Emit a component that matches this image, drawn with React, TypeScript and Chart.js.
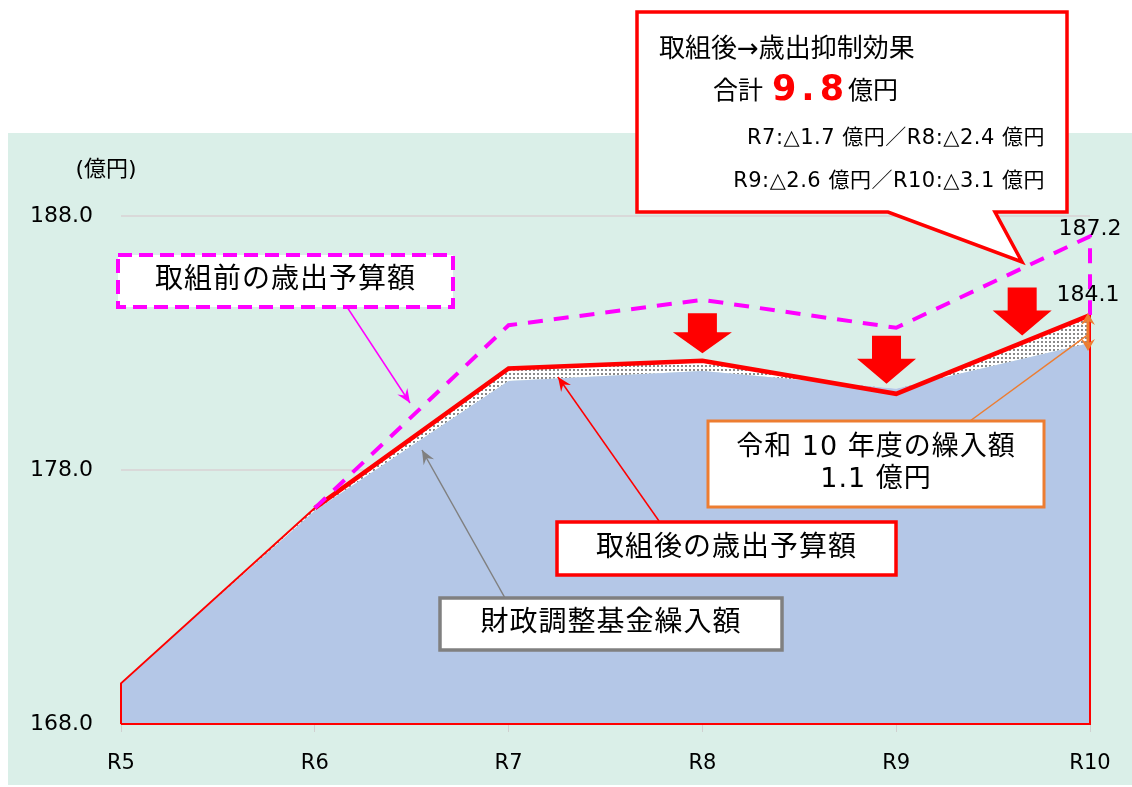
import React, { useEffect, useRef } from "react";
import { Chart, registerables } from "chart.js";

Chart.register(...registerables);

// 年度
const categories = ["R5", "R6", "R7", "R8", "R9", "R10"];
// 取組後の歳出予算額（億円）
const afterBudget = [169.6, 176.5, 182.0, 182.3, 181.0, 184.1];
// 取組前の歳出予算額（億円）R6 起点
const beforeBudget = [null, 176.5, 183.7, 184.7, 183.6, 187.2];
// 財政調整基金繰入を除いた歳出額（億円）
const baseBudget = [169.6, 176.4, 181.5, 181.9, 181.2, 183.0];
// 歳出抑制効果（億円）
const reductions = [null, null, 1.7, 2.4, 2.6, 3.1];
// 令和10年度の繰入額（億円）
const fundTransferR10 = 1.1;
// 縦軸目盛
const yTicks = [168, 178, 188];

const FONT = '"DejaVu Sans", "Noto Sans CJK JP", sans-serif';
const PANEL = "#DAEFE8";
const BLUE = "#B4C7E7";
const RED = "#FF0000";
const MAGENTA = "#FF00FF";
const ORANGE = "#ED7D31";
const GRAY = "#808080";

function makeDotPattern(ctx: CanvasRenderingContext2D): CanvasPattern | string {
  const c = document.createElement("canvas");
  c.width = 4;
  c.height = 4;
  const p = c.getContext("2d");
  if (!p) return "#FFFFFF";
  p.fillStyle = "#FFFFFF";
  p.fillRect(0, 0, 4, 4);
  p.fillStyle = "#8A8A8A";
  p.fillRect(1, 1, 2, 2);
  return ctx.createPattern(c, "repeat") || "#FFFFFF";
}

function arrowHead(
  ctx: CanvasRenderingContext2D,
  x1: number, y1: number, x2: number, y2: number,
  len: number, half: number, color: string
) {
  const a = Math.atan2(y2 - y1, x2 - x1);
  const cos = Math.cos(a);
  const sin = Math.sin(a);
  const bx = x2 - cos * len;
  const by = y2 - sin * len;
  const nx = x2 - cos * len * 0.65;
  const ny = y2 - sin * len * 0.65;
  ctx.fillStyle = color;
  ctx.beginPath();
  ctx.moveTo(x2, y2);
  ctx.lineTo(bx - sin * half, by + cos * half);
  ctx.lineTo(nx, ny);
  ctx.lineTo(bx + sin * half, by - cos * half);
  ctx.closePath();
  ctx.fill();
}

function leader(
  ctx: CanvasRenderingContext2D,
  x1: number, y1: number, x2: number, y2: number,
  color: string, width: number, head: boolean
) {
  ctx.save();
  ctx.strokeStyle = color;
  ctx.lineWidth = width;
  ctx.setLineDash([]);
  ctx.beginPath();
  ctx.moveTo(x1, y1);
  ctx.lineTo(x2, y2);
  ctx.stroke();
  if (head) arrowHead(ctx, x1, y1, x2, y2, 14, 6, color);
  ctx.restore();
}

function blockArrow(ctx: CanvasRenderingContext2D, cx: number, tipY: number, h: number, headH: number) {
  const shaftW = 29;
  const headW = 59;
  const top = tipY - h;
  ctx.save();
  ctx.fillStyle = RED;
  ctx.beginPath();
  ctx.moveTo(cx - shaftW / 2, top);
  ctx.lineTo(cx + shaftW / 2, top);
  ctx.lineTo(cx + shaftW / 2, tipY - headH);
  ctx.lineTo(cx + headW / 2, tipY - headH);
  ctx.lineTo(cx, tipY);
  ctx.lineTo(cx - headW / 2, tipY - headH);
  ctx.lineTo(cx - shaftW / 2, tipY - headH);
  ctx.closePath();
  ctx.fill();
  ctx.restore();
}

function labelBox(
  ctx: CanvasRenderingContext2D,
  x: number, y: number, w: number, h: number,
  color: string, lineWidth: number, dash: number[],
  lines: string[], size: number
) {
  ctx.save();
  ctx.fillStyle = "#FFFFFF";
  ctx.fillRect(x, y, w, h);
  ctx.strokeStyle = color;
  ctx.lineWidth = lineWidth;
  ctx.setLineDash(dash);
  ctx.strokeRect(x, y, w, h);
  ctx.setLineDash([]);
  ctx.fillStyle = "#000000";
  ctx.font = `${size}px ${FONT}`;
  (ctx as any).letterSpacing = "1px";
  ctx.textAlign = "center";
  ctx.textBaseline = "middle";
  const lh = size * 1.15;
  const cy = y + h / 2 - ((lines.length - 1) * lh) / 2;
  lines.forEach((t, i) => ctx.fillText(t, x + w / 2, cy + i * lh));
  ctx.restore();
}

const overlay = {
  id: "overlay",
  beforeDraw(chart: any) {
    const ctx: CanvasRenderingContext2D = chart.ctx;
    ctx.save();
    ctx.fillStyle = PANEL;
    ctx.fillRect(8, 133, chart.width - 8, 652);
    ctx.restore();
  },
  afterDraw(chart: any) {
    const ctx: CanvasRenderingContext2D = chart.ctx;
    const xs = chart.scales.x;
    const ys = chart.scales.y;
    const last = categories.length - 1;
    const px = (v: number) => xs.getPixelForValue(v);
    const py = (v: number) => ys.getPixelForValue(v);

    ctx.save();
    ctx.fillStyle = "#000000";
    ctx.textBaseline = "middle";
    ctx.textAlign = "center";
    ctx.font = `22px ${FONT}`;
    ctx.fillText("(億円)", 106, 170);

    // 端点の値ラベル
    ctx.font = `22px ${FONT}`;
    ctx.textBaseline = "alphabetic";
    ctx.fillText(beforeBudget[last]!.toFixed(1), px(last), py(beforeBudget[last]!) - 1);
    ctx.fillText(afterBudget[last].toFixed(1), px(last) - 2, py(afterBudget[last]) - 14);
    ctx.restore();

    // 抑制効果の矢印
    blockArrow(ctx, px(3), py(182.6), 40, 21);
    blockArrow(ctx, px(3.95), py(181.4), 48, 25);
    blockArrow(ctx, px(4.65), py(183.3), 48, 25);

    // 引出線
    leader(ctx, 347, 307, 410, 403, MAGENTA, 1.5, true);
    leader(ctx, 659, 521, 558, 377, RED, 1.5, true);
    leader(ctx, 505, 598, 422, 450, GRAY, 1.5, true);
    leader(ctx, 970, 421, px(last) - 3, py(183.3), ORANGE, 1.5, false);

    // 令和10年度の繰入額（両矢印）
    const yTop = py(afterBudget[last]) - 2;
    const yBot = py(afterBudget[last] - fundTransferR10) + 8;
    const ax = px(last) - 2;
    ctx.save();
    ctx.strokeStyle = ORANGE;
    ctx.lineWidth = 3;
    ctx.beginPath();
    ctx.moveTo(ax, yTop + 8);
    ctx.lineTo(ax, yBot - 8);
    ctx.stroke();
    arrowHead(ctx, ax, yBot, ax, yTop, 12, 7, ORANGE);
    arrowHead(ctx, ax, yTop, ax, yBot, 12, 7, ORANGE);
    ctx.restore();

    // ラベル枠
    labelBox(ctx, 118, 255, 335, 52, MAGENTA, 4, [14, 7], ["取組前の歳出予算額"], 28);
    labelBox(ctx, 557, 522, 339, 53, RED, 3.5, [], ["取組後の歳出予算額"], 28);
    labelBox(ctx, 440, 598, 342, 52, GRAY, 3.5, [], ["財政調整基金繰入額"], 28);
    labelBox(ctx, 708, 421, 336, 86, ORANGE, 3, [], [
      "令和 10 年度の繰入額",
      `${fundTransferR10.toFixed(1)} 億円`,
    ], 27);

    // 吹き出し
    ctx.save();
    ctx.beginPath();
    ctx.moveTo(637, 12);
    ctx.lineTo(1067, 12);
    ctx.lineTo(1067, 212);
    ctx.lineTo(995, 212);
    ctx.lineTo(1022, 262);
    ctx.lineTo(888, 212);
    ctx.lineTo(637, 212);
    ctx.closePath();
    ctx.fillStyle = "#FFFFFF";
    ctx.fill();
    ctx.strokeStyle = RED;
    ctx.lineWidth = 3.5;
    ctx.lineJoin = "miter";
    ctx.stroke();

    const total = reductions.reduce((s: number, v) => s + (v ?? 0), 0);
    ctx.fillStyle = "#000000";
    ctx.textBaseline = "alphabetic";
    ctx.textAlign = "left";
    ctx.font = `26px ${FONT}`;
    ctx.fillText("取組後→歳出抑制効果", 659, 57);
    ctx.font = `25px ${FONT}`;
    ctx.fillText("合計", 713, 99);
    ctx.fillStyle = RED;
    ctx.font = `bold 35px ${FONT}`;
    (ctx as any).letterSpacing = "5px";
    ctx.fillText(total.toFixed(1), 772, 100);
    (ctx as any).letterSpacing = "0px";
    ctx.fillStyle = "#000000";
    ctx.font = `25px ${FONT}`;
    ctx.fillText("億円", 848, 99);

    const part = (i: number) => `${categories[i]}:△${reductions[i]!.toFixed(1)} 億円`;
    ctx.textAlign = "right";
    ctx.font = `21px ${FONT}`;
    (ctx as any).letterSpacing = "0.5px";
    ctx.fillText(`${part(2)}／${part(3)}`, 1045, 144);
    ctx.fillText(`${part(4)}／${part(5)}`, 1045, 187);
    ctx.restore();
  },
};

export default function App() {
  const ref = useRef<HTMLCanvasElement>(null);

  useEffect(() => {
    const canvas = ref.current;
    if (!canvas) return;
    const ctx = canvas.getContext("2d");
    if (!ctx) return;
    Chart.defaults.font.family = FONT;
    Chart.defaults.color = "#000000";

    const last = categories.length - 1;
    const yMin = yTicks[0];
    const yMax = yTicks[yTicks.length - 1];
    const pts = (arr: (number | null)[]) =>
      arr.map((y, i) => (y == null ? null : { x: i, y })).filter((p) => p !== null) as { x: number; y: number }[];

    const outline = [
      { x: 0, y: yMin },
      ...pts(afterBudget),
      { x: last, y: yMin },
      { x: 0, y: yMin },
    ];
    const beforeLine = [...pts(beforeBudget), { x: last, y: afterBudget[last] }];
    const afterThick = pts(afterBudget).slice(1);

    const chart = new Chart(canvas, {
      type: "line",
      data: {
        datasets: [
          {
            label: "base",
            data: pts(baseBudget),
            borderWidth: 0,
            backgroundColor: BLUE,
            fill: "start",
            order: 5,
          },
          {
            label: "fund",
            data: pts(afterBudget),
            borderWidth: 0,
            fill: { target: 0, above: makeDotPattern(ctx), below: BLUE },
            order: 4,
          },
          {
            label: "outline",
            data: outline,
            borderColor: RED,
            borderWidth: 2,
            fill: false,
            clip: false,
            order: 3,
          },
          {
            label: "取組後の歳出予算額",
            data: afterThick,
            borderColor: RED,
            borderWidth: 4.5,
            fill: false,
            clip: false,
            order: 2,
          },
          {
            label: "取組前の歳出予算額",
            data: beforeLine,
            borderColor: MAGENTA,
            borderWidth: 4,
            borderDash: [15, 11],
            fill: false,
            clip: false,
            order: 1,
          },
        ],
      },
      options: {
        responsive: false,
        animation: false,
        events: [],
        layout: { padding: { left: 10, right: 42, top: 216, bottom: 13 } },
        elements: { point: { radius: 0 }, line: { tension: 0 } },
        plugins: {
          legend: { display: false },
          tooltip: { enabled: false },
        },
        scales: {
          x: {
            type: "linear",
            min: 0,
            max: last,
            ticks: {
              stepSize: 1,
              callback: (v: any) => categories[Number(v)] ?? "",
              color: "#000000",
              font: { size: 21 },
              padding: 19,
            },
            grid: { drawOnChartArea: false, tickLength: 8, color: "#D0D0D0" },
            border: { color: "#D9D9D9", width: 2 },
            afterFit: (s: any) => {
              s.height = 50;
            },
          },
          y: {
            min: yMin,
            max: yMax,
            afterBuildTicks: (s: any) => {
              s.ticks = yTicks.map((v) => ({ value: v }));
            },
            ticks: {
              callback: (v: any) => Number(v).toFixed(1),
              color: "#000000",
              font: { size: 22 },
              padding: 28,
            },
            grid: { color: "#D9D9D9", drawTicks: false, lineWidth: 2 },
            border: { display: false },
            afterFit: (s: any) => {
              s.width = 111;
            },
          },
        },
      },
      plugins: [overlay],
    } as any);

    return () => chart.destroy();
  }, []);

  return (
    <div style={{ position: "absolute", left: 0, top: 0, width: 1132, height: 787 }}>
      <canvas ref={ref} width={1132} height={787} style={{ display: "block" }} />
    </div>
  );
}
